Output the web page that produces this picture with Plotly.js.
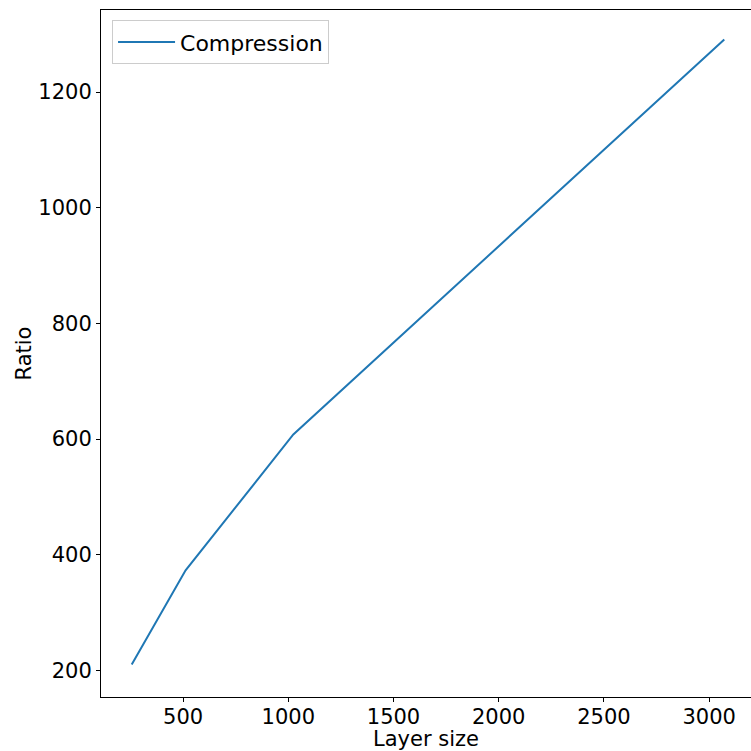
<!DOCTYPE html>
<html>
<head>
<meta charset="utf-8">
<script src="https://cdn.plot.ly/plotly-3.0.1.min.js"></script>
<style>html,body{margin:0;padding:0;background:#fff;}#chart{width:751px;height:751px;}</style>
</head>
<body>
<div id="chart"></div>
<script>
const layerSize = [256, 512, 1024, 2048, 3072];
const ratio = [210, 373, 608, 950, 1291];
const seriesName = "Compression";
const xTicks = [500, 1000, 1500, 2000, 2500, 3000];
const yTicks = [200, 400, 600, 800, 1000, 1200];

const font = {family: "DejaVu Sans, sans-serif", size: 21, color: "#000"};
const legendFont = {family: "DejaVu Sans, sans-serif", size: 22, color: "#000"};

Plotly.newPlot("chart", [{
  x: layerSize, y: ratio, type: "scatter", mode: "lines", name: seriesName,
  line: {color: "#1f77b4", width: 2}
}], {
  width: 751, height: 751,
  margin: {l: 101, r: 0, t: 10, b: 54, pad: 0},
  paper_bgcolor: "#fff", plot_bgcolor: "#fff",
  font: font,
  showlegend: true,
  legend: {x: 0.017, y: 0.985, xanchor: "left", yanchor: "top",
    bgcolor: "rgba(255,255,255,0.8)", bordercolor: "#cccccc", borderwidth: 1,
    itemwidth: 57, font: legendFont},
  xaxis: {range: [110, 3199], tickvals: xTicks, ticktext: xTicks.map(String),
    showgrid: false, zeroline: false, showline: true, linecolor: "#000", linewidth: 1,
    mirror: true, ticks: "outside", ticklen: 4, tickcolor: "#000", tickfont: font,
    ticklabelstandoff: -3,
    title: {text: "Layer size", font: font, standoff: 4}},
  yaxis: {range: [154, 1342], tickvals: yTicks, ticktext: yTicks.map(String),
    showgrid: false, zeroline: false, showline: true, linecolor: "#000", linewidth: 1,
    mirror: true, ticks: "outside", ticklen: 4, tickcolor: "#000", tickfont: font,
    title: {text: "Ratio", font: font, standoff: 0}}
}, {displayModeBar: false, staticPlot: true});
</script>
</body>
</html>
